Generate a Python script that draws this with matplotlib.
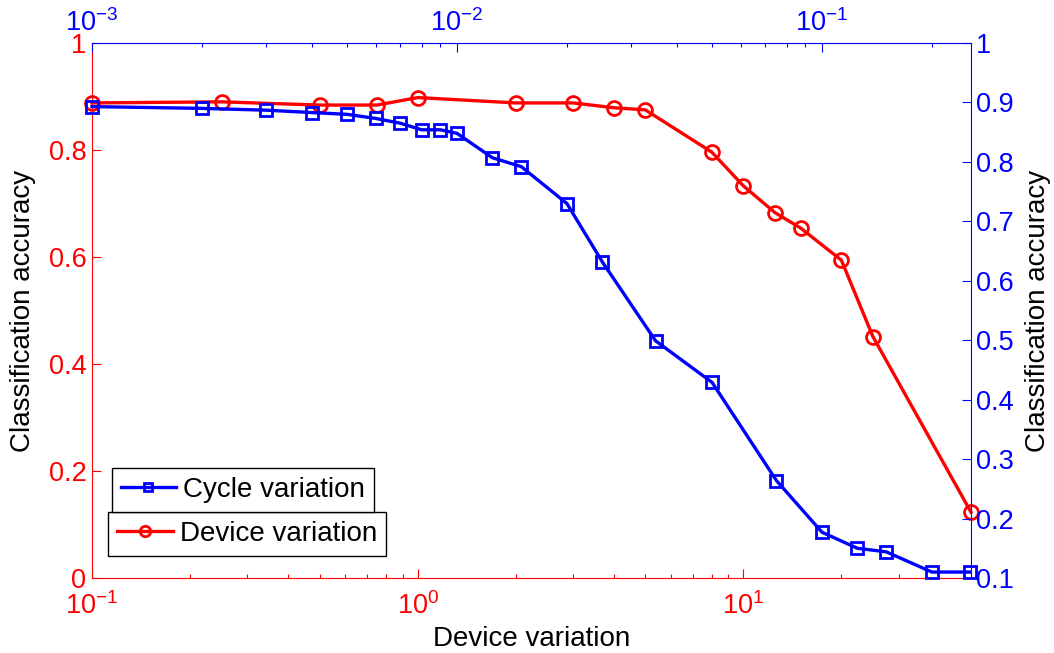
import matplotlib
matplotlib.use("Agg")
import matplotlib.pyplot as plt
import numpy as np

# ── Data ───────
# device variation (bottom / left axes, red)
dev_x = [0.1, 0.25, 0.5, 0.75, 1, 2, 3, 4, 5, 8, 10, 12.5, 15, 20, 25, 50]
dev_y = [0.888, 0.890, 0.884, 0.884, 0.898, 0.888, 0.888, 0.879, 0.875,
         0.796, 0.733, 0.683, 0.654, 0.594, 0.451, 0.123]

# cycle variation (top / right axes, blue)
cyc_x = [0.001, 0.002, 0.003, 0.004, 0.005, 0.006, 0.007, 0.008, 0.009, 0.01,
         0.0125, 0.015, 0.02, 0.025, 0.035, 0.05, 0.075, 0.1, 0.125, 0.15,
         0.2, 0.255]
cyc_y = [0.893, 0.890, 0.887, 0.883, 0.880, 0.873, 0.865, 0.854, 0.854, 0.848,
         0.807, 0.792, 0.730, 0.632, 0.499, 0.429, 0.264, 0.177, 0.150, 0.144,
         0.110, 0.110]

left_ticks  = [0, 0.2, 0.4, 0.6, 0.8, 1]
left_labels = ["0", "0.2", "0.4", "0.6", "0.8", "1"]
right_ticks  = [0.1, 0.2, 0.3, 0.4, 0.5, 0.6, 0.7, 0.8, 0.9, 1.0]
right_labels = ["0.1", "0.2", "0.3", "0.4", "0.5", "0.6", "0.7", "0.8", "0.9", "1"]

# ── Style ──────
RED  = "#FF0000"
BLUE = "#0000FF"
plt.rcParams["font.family"] = ["Liberation Sans", "DejaVu Sans"]
plt.rcParams["mathtext.fontset"] = "custom"
plt.rcParams["mathtext.rm"] = "Liberation Sans"
plt.rcParams["mathtext.it"] = "Liberation Sans:italic"
plt.rcParams["mathtext.bf"] = "Liberation Sans:bold"

TICK_FS  = 19.5
LABEL_FS = 20

fig = plt.figure(figsize=(10.54, 6.53), dpi=100, facecolor="white")
pos = [92 / 1054, 75 / 653, 879 / 1054, 535 / 653]

# bottom / left axes
ax1 = fig.add_axes(pos)
ax1.plot(dev_x, dev_y, color=RED, lw=2.4, marker="o", ms=10,
         mfc="none", mec=RED, mew=2.0, label="Device variation", clip_on=False)
ax1.set_xscale("log")
ax1.set_xlim(0.1, 50)
ax1.set_ylim(0, 1)
ax1.set_yticks(left_ticks)
ax1.set_yticklabels(left_labels)
ax1.spines[["top", "right"]].set_visible(False)
for s in ["left", "bottom"]:
    ax1.spines[s].set_color(RED)
    ax1.spines[s].set_linewidth(0.8)
ax1.tick_params(axis="both", which="both", direction="in", colors=RED,
                labelsize=TICK_FS, top=False, right=False)
ax1.tick_params(axis="both", which="major", length=6.5, width=0.8)
ax1.tick_params(axis="both", which="minor", length=3, width=0.8)
ax1.tick_params(axis="x", pad=10)
ax1.tick_params(axis="y", pad=4)
ax1.set_xlabel("Device variation", fontsize=LABEL_FS, color="black")
ax1.set_ylabel("Classification accuracy", fontsize=LABEL_FS, color="black")
ax1.xaxis.set_label_coords(0.5, -0.09)
ax1.yaxis.set_label_coords(-0.064, 0.5)

# top / right axes
ax2 = fig.add_axes(pos)
ax2.patch.set_visible(False)
ax2.plot(cyc_x, cyc_y, color=BLUE, lw=2.4, marker="s", ms=8.5,
         mfc="none", mec=BLUE, mew=2.0, label="Cycle variation", clip_on=False)
ax2.set_xscale("log")
ax2.set_xlim(0.001, 0.256)
ax2.set_ylim(0.1, 1)
ax2.set_yticks(right_ticks)
ax2.set_yticklabels(right_labels)
ax2.xaxis.tick_top()
ax2.yaxis.tick_right()
ax2.yaxis.set_label_position("right")
ax2.spines[["left", "bottom"]].set_visible(False)
for s in ["top", "right"]:
    ax2.spines[s].set_color(BLUE)
    ax2.spines[s].set_linewidth(0.8)
ax2.tick_params(axis="both", which="both", direction="in", colors=BLUE,
                labelsize=TICK_FS, bottom=False, left=False)
ax2.tick_params(axis="both", which="major", length=6.5, width=0.8)
ax2.tick_params(axis="both", which="minor", length=3, width=0.8)
ax2.tick_params(axis="x", pad=4)
ax2.tick_params(axis="y", pad=3.5)
ax2.set_ylabel("Classification accuracy", fontsize=LABEL_FS, color="black")
ax2.yaxis.set_label_coords(1.062, 0.5)

# two separate legend boxes
leg_kw = dict(loc="upper left", bbox_transform=fig.transFigure, fontsize=LABEL_FS,
              frameon=True, fancybox=False, edgecolor="black", framealpha=1,
              borderpad=0.32, handlelength=2.0, handletextpad=0.25,
              borderaxespad=0, markerscale=0.75)
leg2 = ax2.legend(bbox_to_anchor=(111.7 / 1054, 1 - 468.3 / 653), **leg_kw)
leg1 = ax1.legend(bbox_to_anchor=(108.3 / 1054, 1 - 512.3 / 653), **leg_kw)
for lg in (leg1, leg2):
    lg.get_frame().set_linewidth(1.0)
    lg.set_zorder(10)

fig.savefig("out.png", dpi=100, facecolor="white")
